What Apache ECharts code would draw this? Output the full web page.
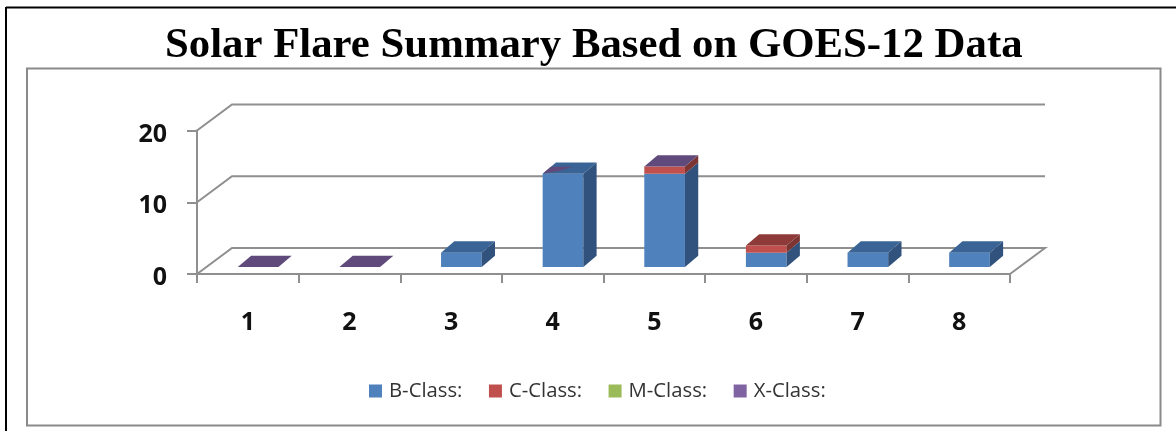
<!DOCTYPE html>
<html lang="en">

<head>
    <meta charset="UTF-8">
    <title>Solar Flare Summary</title>
    <script type="text/javascript" src="https://cdn.jsdelivr.net/npm/echarts@6/dist/echarts.min.js"></script>
    <style>
        html, body { margin: 0; padding: 0; background: #fff; }
    </style>
</head>

<body>
    <div id="main" style="width:1176px;height:431px;"></div>
</body>
<script type="text/javascript">

    var categories = ['1', '2', '3', '4', '5', '6', '7', '8'];
    var valueTicks = [0, 10, 20];
    var bClass = [0, 0, 2, 13, 13, 2, 2, 2];
    var cClass = [0, 0, 0, 0, 1, 1, 0, 0];
    var mClass = [0, 0, 0, 0, 0, 0, 0, 0];
    var xClass = [0, 0, 0, 0, 0, 0, 0, 0];

    var classNames = ['B-Class:', 'C-Class:', 'M-Class:', 'X-Class:'];
    var classValues = [bClass, cClass, mClass, xClass];

    // front, side, top face colours of each class
    var classColors = [
        ['#4f81bd', '#30527c', '#3a6495'],
        ['#c0504d', '#7d3533', '#8e3a38'],
        ['#9bbb59', '#657a3a', '#728a42'],
        ['#8064a2', '#533f6b', '#604a7b']
    ];

    // the zero-height X segment fights with the cap below it, this class wins per column
    var capClass = [3, 3, 0, 0, 3, 1, 0, 0];

    var wallDx = 35, wallDy = -26;
    var insetDx = 10.3, insetDy = -7;
    var barDx = 13.3, barDy = -11.3;
    var axisColor = '#8f8f8f';

    function poly(points, color) {
        return { type: 'polygon', shape: { points: points }, style: { fill: color } };
    }

    function renderWall(params, api) {
        var v = api.value(1);
        var a = api.coord([0, v]);
        var size = api.size([1, 0])[0];
        var left = a[0] - size / 2;
        var right = left + size * categories.length;
        var pts = [[left, a[1]], [left + wallDx, a[1] + wallDy], [right + wallDx, a[1] + wallDy]];
        if (v === 0) {
            pts.push([right, a[1]]);
        }
        return {
            type: 'polyline',
            shape: { points: pts },
            style: { stroke: axisColor, lineWidth: 2, fill: null }
        };
    }

    function renderBar(classIdx) {
        return function (params, api) {
            var i = api.value(0);
            var base = 0;
            for (var k = 0; k < classIdx; k++) {
                base += classValues[k][i];
            }
            var bottom = api.coord([i, base]);
            var top = api.coord([i, base + api.value(1)]);
            var width = api.size([1, 0])[0] * 0.4;
            var x0 = bottom[0] + insetDx - width / 2;
            var x1 = x0 + width;
            var yb = bottom[1] + insetDy;
            var yt = top[1] + insetDy;
            var colors = classColors[classIdx];
            var children = [];

            if (api.value(1) > 0) {
                children.push(poly([[x0, yb], [x1, yb], [x1, yt], [x0, yt]], colors[0]));
                children.push(poly([[x1, yb], [x1 + barDx, yb + barDy], [x1 + barDx, yt + barDy], [x1, yt]], colors[1]));
            }
            if (capClass[i] === classIdx) {
                children.push(poly([[x0, yt], [x1, yt], [x1 + barDx, yt + barDy], [x0 + barDx, yt + barDy]], colors[2]));
            }
            // purple sliver showing through the cap of column 4
            if (classIdx === 3 && i === 3) {
                var uv = [[0, 0], [0, 0.62], [0.53, 0.62], [0.33, 0.27]];
                children.push(poly(uv.map(function (p) {
                    return [x0 + p[0] * width + p[1] * barDx, yt + p[1] * barDy];
                }), colors[2]));
            }
            return { type: 'group', children: children };
        };
    }

    var series = [{
        type: 'custom',
        name: 'walls',
        coordinateSystem: 'cartesian2d',
        renderItem: renderWall,
        silent: true,
        clip: false,
        data: valueTicks.map(function (v) { return [0, v]; })
    }];

    classNames.forEach(function (name, c) {
        series.push({
            type: 'custom',
            name: name,
            coordinateSystem: 'cartesian2d',
            renderItem: renderBar(c),
            clip: false,
            itemStyle: { color: classColors[c][0] },
            encode: { x: 0, y: 1 },
            data: classValues[c].map(function (v, i) { return [i, v]; })
        });
    });

    var chart = echarts.init(document.getElementById('main'));

    chart.setOption({
        animation: false,
        backgroundColor: '#ffffff',
        title: {
            text: 'Solar Flare Summary Based on GOES-12 Data',
            left: 165,
            top: 24,
            padding: 0,
            textStyle: {
                fontFamily: 'Liberation Serif',
                fontWeight: 'bold',
                fontSize: 42.8,
                color: '#000000'
            }
        },
        legend: {
            data: classNames,
            left: 369,
            top: 381,
            padding: 0,
            icon: 'rect',
            itemWidth: 13,
            itemHeight: 13,
            itemGap: 26.5,
            textStyle: {
                fontFamily: 'Open Sans',
                fontSize: 20.3,
                color: '#333333',
                padding: [0, 0, 0, 2]
            }
        },
        grid: { left: 197, top: 130.5, width: 813, height: 143.5 },
        xAxis: {
            type: 'category',
            data: categories,
            axisLine: { lineStyle: { color: axisColor, width: 2 } },
            axisTick: { show: true, length: 9, lineStyle: { color: axisColor, width: 2 } },
            axisLabel: {
                margin: 36,
                fontFamily: 'Open Sans',
                fontWeight: 'bold',
                fontSize: 25,
                color: '#111111'
            }
        },
        yAxis: {
            type: 'value',
            min: 0,
            max: 20,
            interval: 10,
            splitLine: { show: false },
            axisLine: { show: true, lineStyle: { color: axisColor, width: 2 } },
            axisTick: { show: true, length: 10, lineStyle: { color: axisColor, width: 2 } },
            axisLabel: {
                margin: 30,
                fontFamily: 'Open Sans',
                fontWeight: 'bold',
                fontSize: 25,
                color: '#111111',
                verticalAlign: 'top',
                lineHeight: 8
            }
        },
        graphic: [
            // page rule top and left, chart frame
            { type: 'line', silent: true, shape: { x1: 6, y1: 7.5, x2: 1176, y2: 7.5 }, style: { stroke: '#000', lineWidth: 2 } },
            { type: 'line', silent: true, shape: { x1: 6, y1: 7, x2: 6, y2: 431 }, style: { stroke: '#000', lineWidth: 2 } },
            { type: 'rect', silent: true, shape: { x: 27, y: 68.5, width: 1133.5, height: 357 }, style: { fill: null, stroke: '#8a8a8a', lineWidth: 2 } }
        ],
        series: series
    });
</script>

</html>
